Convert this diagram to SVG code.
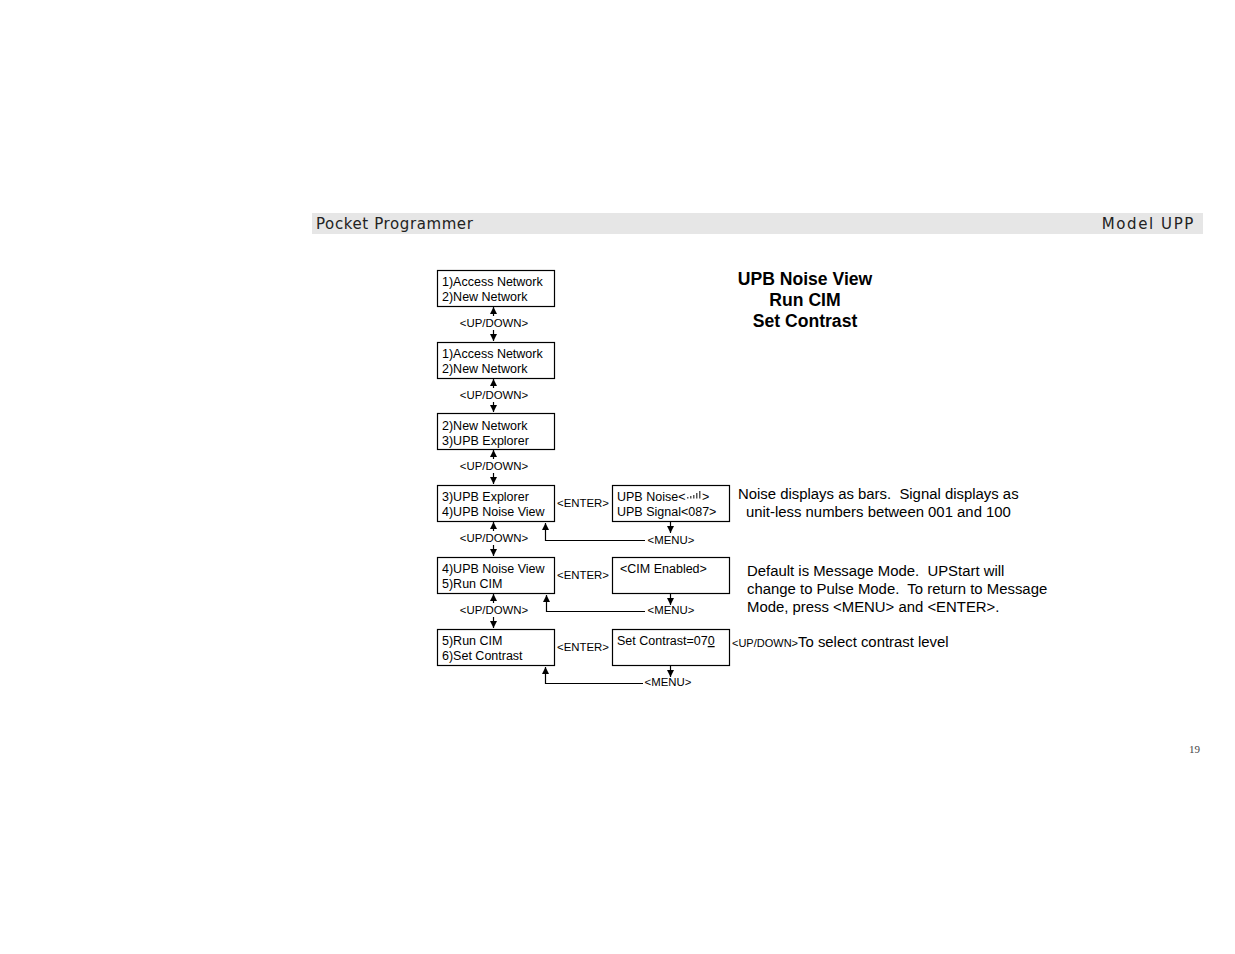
<svg xmlns="http://www.w3.org/2000/svg" width="1235" height="954" viewBox="0 0 1235 954">
<defs>
<marker id="ah" markerWidth="8" markerHeight="8" refX="7" refY="4" orient="auto" markerUnits="userSpaceOnUse">
<path d="M0,0.5 L7,4 L0,7.5 z" fill="#000"/>
</marker>
<style>
.box{fill:#fff;stroke:#000;stroke-width:1.2}
.t{font-family:"Liberation Sans",Arial,sans-serif;font-size:12.5px;fill:#000}
.s{font-family:"Liberation Sans",Arial,sans-serif;font-size:11.4px;fill:#000}
.n{font-family:"Liberation Sans",Arial,sans-serif;font-size:14.9px;fill:#000;white-space:pre}
.b{font-family:"Liberation Sans",Arial,sans-serif;font-size:17.6px;font-weight:bold;fill:#000}
.h{font-family:"DejaVu Sans",sans-serif;font-size:15px;fill:#222;letter-spacing:0.6px}
.ln{stroke:#000;stroke-width:1.2;fill:none}
</style>
</defs>
<rect x="312" y="213" width="891" height="21" fill="#e6e6e6"/>
<text class="h" x="316" y="229">Pocket Programmer</text>
<text class="h" x="1195" y="229" text-anchor="end" style="letter-spacing:1.6px">Model UPP</text>
<text x="1200" y="753" text-anchor="end" style="font-family:'Liberation Serif',serif;font-size:11px;fill:#444">19</text>

<g id="title">
<text class="b" x="805" y="285" text-anchor="middle">UPB Noise View</text>
<text class="b" x="805" y="306" text-anchor="middle">Run CIM</text>
<text class="b" x="805" y="327" text-anchor="middle">Set Contrast</text>
</g>

<g id="box1"><rect class="box" x="437.5" y="270.5" width="117" height="36"/>
<text class="t" x="442" y="286">1)Access Network</text><text class="t" x="442" y="301">2)New Network</text></g>
<g id="box2"><rect class="box" x="437.5" y="342.5" width="117" height="36"/>
<text class="t" x="442" y="358">1)Access Network</text><text class="t" x="442" y="373">2)New Network</text></g>
<g id="box3"><rect class="box" x="437.5" y="413.5" width="117" height="36"/>
<text class="t" x="442" y="430">2)New Network</text><text class="t" x="442" y="445">3)UPB Explorer</text></g>
<g id="box4"><rect class="box" x="437.5" y="485.5" width="117" height="36"/>
<text class="t" x="442" y="501">3)UPB Explorer</text><text class="t" x="442" y="516">4)UPB Noise View</text></g>
<g id="box5"><rect class="box" x="437.5" y="557.5" width="117" height="36"/>
<text class="t" x="442" y="573">4)UPB Noise View</text><text class="t" x="442" y="588">5)Run CIM</text></g>
<g id="box6"><rect class="box" x="437.5" y="629.5" width="117" height="36"/>
<text class="t" x="442" y="645">5)Run CIM</text><text class="t" x="442" y="660">6)Set Contrast</text></g>

<g id="noise"><rect class="box" x="612.5" y="485.5" width="117" height="36"/>
<text class="t" x="617" y="501">UPB Noise&lt;</text>
<g fill="#555"><rect x="687" y="497" width="1.5" height="1.5"/><rect x="690" y="496" width="1.5" height="2.5"/><rect x="693" y="495" width="1.5" height="3.5"/><rect x="696" y="493" width="1.5" height="5.5"/><rect x="699" y="491" width="1.5" height="7.5"/></g>
<text class="t" x="702" y="501">&gt;</text>
<text class="t" x="617" y="516">UPB Signal&lt;087&gt;</text></g>
<g id="cim"><rect class="box" x="612.5" y="557.5" width="117" height="36"/>
<text class="t" x="620" y="573">&lt;CIM Enabled&gt;</text></g>
<g id="contrast"><rect class="box" x="612.5" y="629.5" width="117" height="36"/>
<text class="t" x="617" y="645">Set Contrast=07<tspan text-decoration="underline">0</tspan></text></g>

<g id="connectors">
<line class="ln" x1="493.5" y1="316" x2="493.5" y2="307" marker-end="url(#ah)"/>
<line class="ln" x1="493.5" y1="330" x2="493.5" y2="341" marker-end="url(#ah)"/>
<line class="ln" x1="493.5" y1="388" x2="493.5" y2="379" marker-end="url(#ah)"/>
<line class="ln" x1="493.5" y1="402" x2="493.5" y2="412" marker-end="url(#ah)"/>
<line class="ln" x1="493.5" y1="459" x2="493.5" y2="450" marker-end="url(#ah)"/>
<line class="ln" x1="493.5" y1="473" x2="493.5" y2="484" marker-end="url(#ah)"/>
<line class="ln" x1="493.5" y1="531" x2="493.5" y2="522" marker-end="url(#ah)"/>
<line class="ln" x1="493.5" y1="545" x2="493.5" y2="556" marker-end="url(#ah)"/>
<line class="ln" x1="493.5" y1="603" x2="493.5" y2="594" marker-end="url(#ah)"/>
<line class="ln" x1="493.5" y1="617" x2="493.5" y2="628" marker-end="url(#ah)"/>

<line class="ln" x1="670.5" y1="522" x2="670.5" y2="533" marker-end="url(#ah)"/>
<polyline class="ln" points="645,540.5 545.5,540.5 545.5,523" marker-end="url(#ah)"/>
<line class="ln" x1="670.5" y1="594" x2="670.5" y2="605" marker-end="url(#ah)"/>
<polyline class="ln" points="645,611.5 546.5,611.5 546.5,595" marker-end="url(#ah)"/>
<line class="ln" x1="670.5" y1="666" x2="670.5" y2="677" marker-end="url(#ah)"/>
<polyline class="ln" points="643,683.5 545.5,683.5 545.5,667" marker-end="url(#ah)"/>

<text class="s" x="494" y="327" text-anchor="middle">&lt;UP/DOWN&gt;</text>
<text class="s" x="494" y="399" text-anchor="middle">&lt;UP/DOWN&gt;</text>
<text class="s" x="494" y="470" text-anchor="middle">&lt;UP/DOWN&gt;</text>
<text class="s" x="494" y="542" text-anchor="middle">&lt;UP/DOWN&gt;</text>
<text class="s" x="494" y="614" text-anchor="middle">&lt;UP/DOWN&gt;</text>
<text class="s" x="583" y="507" text-anchor="middle">&lt;ENTER&gt;</text>
<text class="s" x="583" y="579" text-anchor="middle">&lt;ENTER&gt;</text>
<text class="s" x="583" y="651" text-anchor="middle">&lt;ENTER&gt;</text>
<text class="s" x="671" y="544" text-anchor="middle">&lt;MENU&gt;</text>
<text class="s" x="671" y="614" text-anchor="middle">&lt;MENU&gt;</text>
<text class="s" x="668" y="686" text-anchor="middle">&lt;MENU&gt;</text>
</g>

<g id="notes">
<text class="n" x="738" y="499">Noise displays as bars.  Signal displays as</text>
<text class="n" x="746" y="517">unit-less numbers between 001 and 100</text>
<text class="n" x="747" y="576">Default is Message Mode.  UPStart will</text>
<text class="n" x="747" y="594">change to Pulse Mode.  To return to Message</text>
<text class="n" x="747" y="612">Mode, press &lt;MENU&gt; and &lt;ENTER&gt;.</text>
<text class="n" x="732" y="647"><tspan style="font-size:11px">&lt;UP/DOWN&gt;</tspan>To select contrast level</text>
</g>
</svg>
